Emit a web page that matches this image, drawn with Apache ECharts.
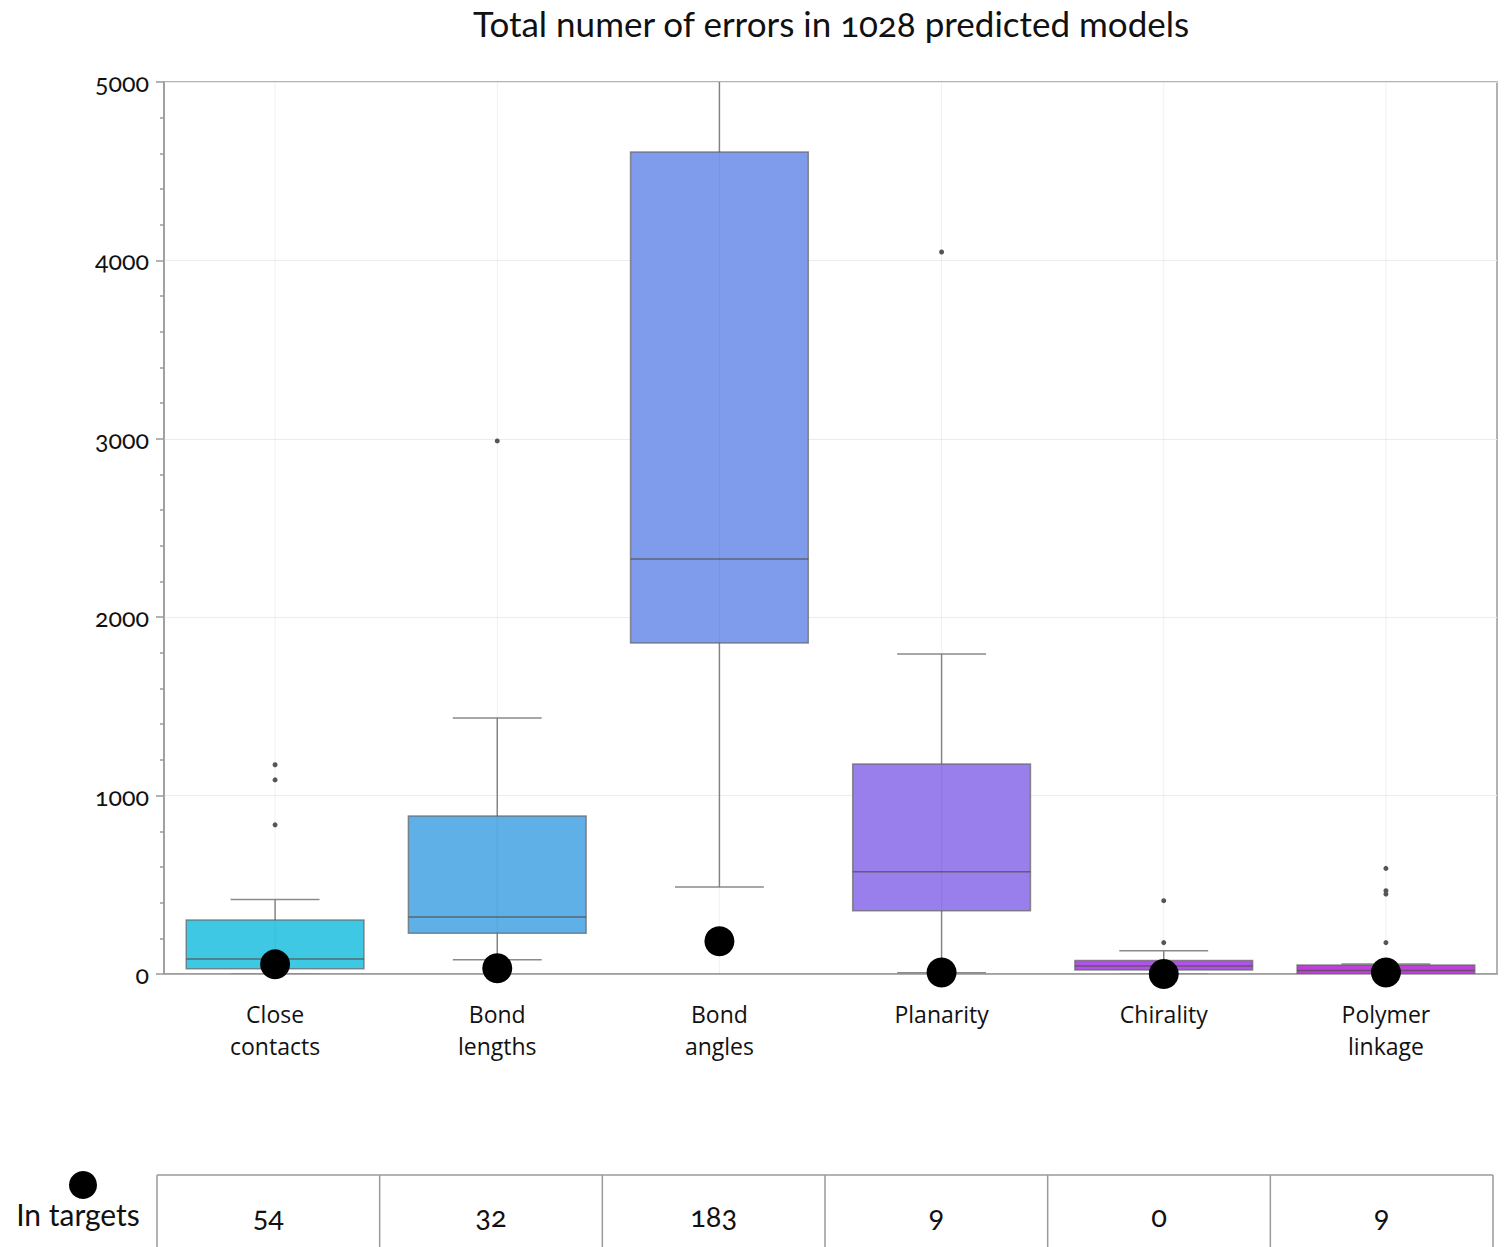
<!DOCTYPE html>
<html>
<head>
<meta charset="utf-8">
<title>Total numer of errors in 1028 predicted models</title>
<script src="https://cdn.jsdelivr.net/npm/echarts@6/dist/echarts.min.js"></script>
<style>
  html, body { margin: 0; padding: 0; background: #fff; }
  #chart { width: 1512px; height: 1247px; }
  /* old-style figures, as in the original typeface */
  #chart text { font-variant-numeric: oldstyle-nums !important; font-feature-settings: "onum" 1 !important; }
</style>
</head>
<body>
<div id="chart"></div>
<script>
// Error categories and their box statistics (number of errors per model)
const categories   = ['Close\ncontacts', 'Bond\nlengths', 'Bond\nangles', 'Planarity', 'Chirality', 'Polymer\nlinkage'];
const whiskerLow   = [0,    80,   488,  7,    0,   0];
const quartile1    = [30,   228,  1855, 355,  22,  0];
const medians      = [84,   320,  2326, 573,  45,  20];
const quartile3    = [302,  886,  4608, 1177, 75,  50];
const whiskerHigh  = [417,  1435, 5300, 1794, 131, 56];
const outliers     = [[1173, 1088, 836], [2988], [], [4047], [411, 176], [592, 467, 448, 176]];
// Errors found in the experimental target structures
const inTargets    = [54, 32, 183, 9, 0, 9];
const boxColors    = ['#3ec8e3', '#5fb0e6', '#7f9cec', '#997feb', '#b052e6', '#bf3fd8'];

const chart = echarts.init(document.getElementById('chart'), null, { renderer: 'svg' });

const boxData = categories.map((c, i) => [i, whiskerLow[i], quartile1[i], medians[i], quartile3[i], whiskerHigh[i]]);
const outlierData = [];
outliers.forEach((vals, i) => vals.forEach(v => outlierData.push([i, v])));
const targetData = inTargets.map((v, i) => [i, v]);

function renderBox(params, api) {
  const i = api.value(0);
  const band = api.size([1, 0])[0];
  const half = band * 0.4;
  const capHalf = band * 0.2;
  const x = api.coord([i, 0])[0];
  const yLo = api.coord([i, api.value(1)])[1];
  const yQ1 = api.coord([i, api.value(2)])[1];
  const yMed = api.coord([i, api.value(3)])[1];
  const yQ3 = api.coord([i, api.value(4)])[1];
  const yHi = api.coord([i, api.value(5)])[1];
  const yBase = api.coord([i, 0])[1];
  const yTop = api.coord([i, 5000])[1];
  const whisker = { stroke: '#8a8a8a', lineWidth: 1.5 };
  return {
    type: 'group',
    children: [
      { type: 'line', shape: { x1: x, y1: yQ3, x2: x, y2: yHi }, style: whisker },
      { type: 'line', shape: { x1: x, y1: yQ1, x2: x, y2: yLo }, style: whisker },
      { type: 'line', shape: { x1: x - capHalf, y1: yHi, x2: x + capHalf, y2: yHi }, style: whisker },
      { type: 'line', shape: { x1: x - capHalf, y1: yLo, x2: x + capHalf, y2: yLo }, style: whisker },
      { type: 'rect', shape: { x: x - half, y: yQ3, width: half * 2, height: yQ1 - yQ3 },
        style: { fill: boxColors[i], stroke: 'rgba(100,100,100,0.7)', lineWidth: 1.5 } },
      { type: 'line', shape: { x1: x - half, y1: yMed, x2: x + half, y2: yMed },
        style: { stroke: 'rgba(80,80,80,0.75)', lineWidth: 1.5 } },
      // category grid line, faint, across the whole plot height
      { type: 'line', shape: { x1: x, y1: yBase, x2: x, y2: yTop },
        style: { stroke: 'rgba(0,0,0,0.06)', lineWidth: 1 } }
    ]
  };
}

// Table under the chart
const tableLeft = 157, tableRight = 1493, tableTop = 1175, tableBottom = 1260;
const colW = (tableRight - tableLeft) / inTargets.length;
const tableGraphics = [
  { type: 'line', shape: { x1: tableLeft, y1: tableTop, x2: tableRight, y2: tableTop },
    style: { stroke: '#9a9a9a', lineWidth: 1.5 } }
];
for (let k = 0; k <= inTargets.length; k++) {
  const xx = tableLeft + k * colW;
  tableGraphics.push({ type: 'line', shape: { x1: xx, y1: tableTop, x2: xx, y2: tableBottom },
    style: { stroke: '#9a9a9a', lineWidth: 1.5 } });
}
inTargets.forEach((v, k) => {
  tableGraphics.push({ type: 'text', x: tableLeft + (k + 0.5) * colW, y: 1215,
    style: { text: String(v), fill: '#111', font: '29px Lato', align: 'center', verticalAlign: 'middle' } });
});
tableGraphics.push({ type: 'circle', shape: { cx: 83, cy: 1185, r: 14 }, style: { fill: '#000' } });
tableGraphics.push({ type: 'text', x: 78, y: 1214,
  style: { text: 'In targets', fill: '#111', font: '30px Lato', align: 'center', verticalAlign: 'middle' } });

chart.setOption({
  backgroundColor: '#fff',
  animation: false,
  title: {
    text: 'Total numer of errors in 1028 predicted models',
    left: 473,
    top: 5,
    padding: 0,
    textStyle: { fontFamily: 'Lato', fontSize: 35, fontWeight: 'normal', color: '#111' }
  },
  grid: {
    left: 164, right: 15, top: 82, bottom: 273,
    show: true, borderColor: '#9a9a9a', borderWidth: 1.5, backgroundColor: 'transparent'
  },
  xAxis: {
    type: 'category',
    data: categories,
    boundaryGap: true,
    axisLine: { lineStyle: { color: '#9a9a9a', width: 1.5 } },
    axisTick: { show: false },
    splitLine: { show: false },
    axisLabel: { color: '#111', fontFamily: 'Open Sans', fontSize: 23, lineHeight: 32, margin: 24, interval: 0 }
  },
  yAxis: {
    type: 'value',
    min: 0, max: 5000, interval: 1000,
    axisLine: { show: true, lineStyle: { color: '#9a9a9a', width: 1.5 } },
    axisTick: { show: true, length: 8, lineStyle: { color: '#9a9a9a', width: 1.5 } },
    minorTick: { show: true, splitNumber: 5, length: 4, lineStyle: { color: '#9a9a9a', width: 1.5 } },
    splitLine: { show: true, lineStyle: { color: '#ececec', width: 1 } },
    axisLabel: { color: '#111', fontFamily: 'Lato', fontSize: 25, margin: 15, formatter: v => String(v) }
  },
  series: [
    {
      type: 'custom',
      name: 'errors',
      clip: true,
      renderItem: renderBox,
      encode: { x: 0, y: [1, 2, 3, 4, 5] },
      data: boxData,
      z: 2
    },
    {
      type: 'scatter',
      name: 'outliers',
      data: outlierData,
      symbolSize: 5,
      itemStyle: { color: '#555', opacity: 1 },
      z: 3
    },
    {
      type: 'scatter',
      name: 'In targets',
      data: targetData,
      symbolSize: 30,
      itemStyle: { color: '#000', opacity: 1 },
      clip: false,
      z: 5
    }
  ],
  graphic: tableGraphics
});
</script>
</body>
</html>
